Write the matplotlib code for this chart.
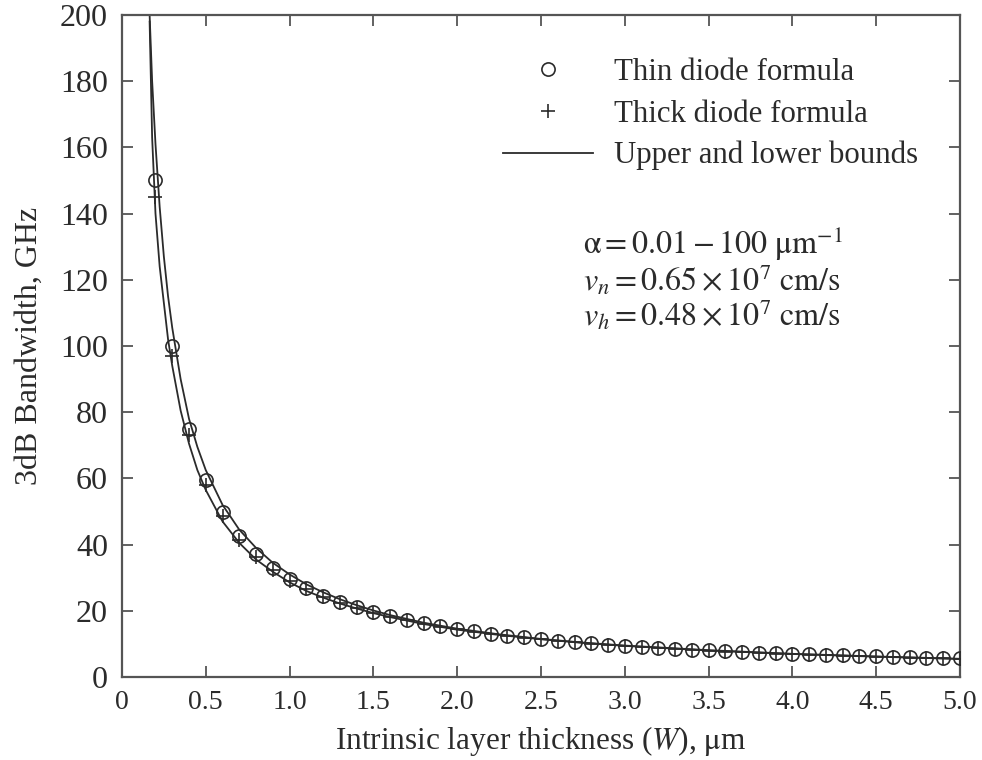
import matplotlib
matplotlib.use("Agg")
import matplotlib.pyplot as plt

# data
w_pts = [0.2, 0.3, 0.4, 0.5, 0.6, 0.7, 0.8, 0.9, 1.0, 1.1, 1.2, 1.3, 1.4, 1.5,
         1.6, 1.7, 1.8, 1.9, 2.0, 2.1, 2.2, 2.3, 2.4, 2.5, 2.6, 2.7, 2.8, 2.9,
         3.0, 3.1, 3.2, 3.3, 3.4, 3.5, 3.6, 3.7, 3.8, 3.9, 4.0, 4.1, 4.2, 4.3,
         4.4, 4.5, 4.6, 4.7, 4.8, 4.9, 5.0]
thin = [150, 100, 75, 59.5, 49.7, 42.6, 37.2, 33.0, 29.6, 26.9, 24.6, 22.7, 21.0, 19.6,
        18.3, 17.2, 16.2, 15.3, 14.5, 13.8, 13.1, 12.5, 12.0, 11.5, 11.0, 10.6, 10.2, 9.8,
        9.5, 9.2, 8.9, 8.6, 8.3, 8.1, 7.8, 7.6, 7.4, 7.2, 7.0, 6.8, 6.7, 6.5,
        6.4, 6.2, 6.1, 5.9, 5.8, 5.7, 5.6]
thick = [145, 97, 73, 58, 48.5, 41.5, 36.3, 32.3, 29.1, 26.5, 24.3, 22.4, 20.8, 19.4,
         18.2, 17.1, 16.1, 15.2, 14.4, 13.7, 13.0, 12.4, 11.9, 11.4, 10.9, 10.5, 10.1, 9.7,
         9.4, 9.1, 8.8, 8.5, 8.2, 8.0, 7.7, 7.5, 7.3, 7.1, 6.9, 6.7, 6.6, 6.4,
         6.3, 6.1, 6.0, 5.8, 5.7, 5.6, 5.5]

w_line = [0.165, 0.18, 0.2, 0.225, 0.25, 0.275, 0.3, 0.35, 0.4, 0.45, 0.5, 0.6, 0.7,
          0.8, 0.9, 1.0, 1.1, 1.2, 1.3, 1.4, 1.5, 1.6, 1.8, 2.0, 2.25, 2.5, 2.75,
          3.0, 3.5, 4.0, 4.5, 5.0]
upper = [200, 180, 161, 142, 127, 115, 105.5, 90, 78, 69.5, 62.5, 52, 44.5,
         39, 34.5, 31, 28, 25.6, 23.5, 21.7, 20.1, 18.7, 16.4, 14.6, 12.9, 11.5, 10.4,
         9.5, 8.1, 7.0, 6.2, 5.5]
lower = [198, 163, 140, 124, 113, 102, 94, 80.5, 70.5, 62.5, 56.5, 47, 40.5,
         35.5, 31.8, 28.6, 26, 24, 22.2, 20.7, 19.3, 18.1, 16.0, 14.3, 12.7, 11.4, 10.3,
         9.4, 8.0, 6.95, 6.15, 5.45]

x_ticks = [0, 0.5, 1.0, 1.5, 2.0, 2.5, 3.0, 3.5, 4.0, 4.5, 5.0]
x_labels = ["0", "0.5", "1.0", "1.5", "2.0", "2.5", "3.0", "3.5", "4.0", "4.5", "5.0"]
y_ticks = list(range(0, 201, 20))

plt.rcParams['font.family'] = ['Liberation Serif', 'DejaVu Serif']
plt.rcParams['mathtext.fontset'] = 'stix'

ink = '#2b2b2b'
fig = plt.figure(figsize=(9.82, 7.60), dpi=100)
ax = fig.add_axes([0.1242, 0.1092, 0.8534, 0.8711])

ax.plot(w_line, upper, color=ink, lw=1.3, label='Upper and lower bounds', zorder=2)
ax.plot(w_line, lower, color=ink, lw=1.3, zorder=2)
ax.plot(w_pts, thin, linestyle='none', marker='o', ms=9.5, mfc='none', mec=ink,
        mew=1.2, label='Thin diode formula', zorder=3)
ax.plot(w_pts, thick, linestyle='none', marker='+', ms=10, mec=ink,
        mew=1.2, label='Thick diode formula', zorder=3)

ax.set_xlim(0, 5.0)
ax.set_ylim(0, 200)
ax.set_xticks(x_ticks)
ax.set_xticklabels(x_labels)
ax.set_yticks(y_ticks)
ax.tick_params(direction='in', length=8, width=1.3, top=True, right=True,
               colors='#555555', labelcolor=ink)
ax.tick_params(axis='x', labelsize=20, pad=9)
ax.tick_params(axis='y', labelsize=23, pad=10)
for s in ax.spines.values():
    s.set_color('#555555')
    s.set_linewidth(1.6)

ax.set_xlabel(r'Intrinsic layer thickness ($W$), $\mathrm{\mu}$m', fontsize=22.5,
              color=ink, labelpad=7)
ax.set_ylabel('3dB Bandwidth, GHz', fontsize=23, color=ink, labelpad=12)

h, l = ax.get_legend_handles_labels()
order = [1, 2, 0]
ax.legend([h[i] for i in order], [l[i] for i in order], loc='upper left',
          bbox_to_anchor=(0.4368, 0.958), frameon=False, fontsize=22.2,
          borderpad=0, handlelength=2.9, handletextpad=0.7, labelspacing=0.4,
          labelcolor=ink)

ax.text(0.55, 0.683,
        '$\\mathrm{\\alpha} = 0.01 - 100\\ \\mathrm{\\mu m}^{-1}$\n'
        '$v_n = 0.65 \\times 10^7\\ \\mathrm{cm/s}$\n'
        '$v_h = 0.48 \\times 10^7\\ \\mathrm{cm/s}$',
        transform=ax.transAxes, fontsize=23, color=ink, va='top', ha='left',
        linespacing=1.0)

fig.savefig('out.png', dpi=100)
